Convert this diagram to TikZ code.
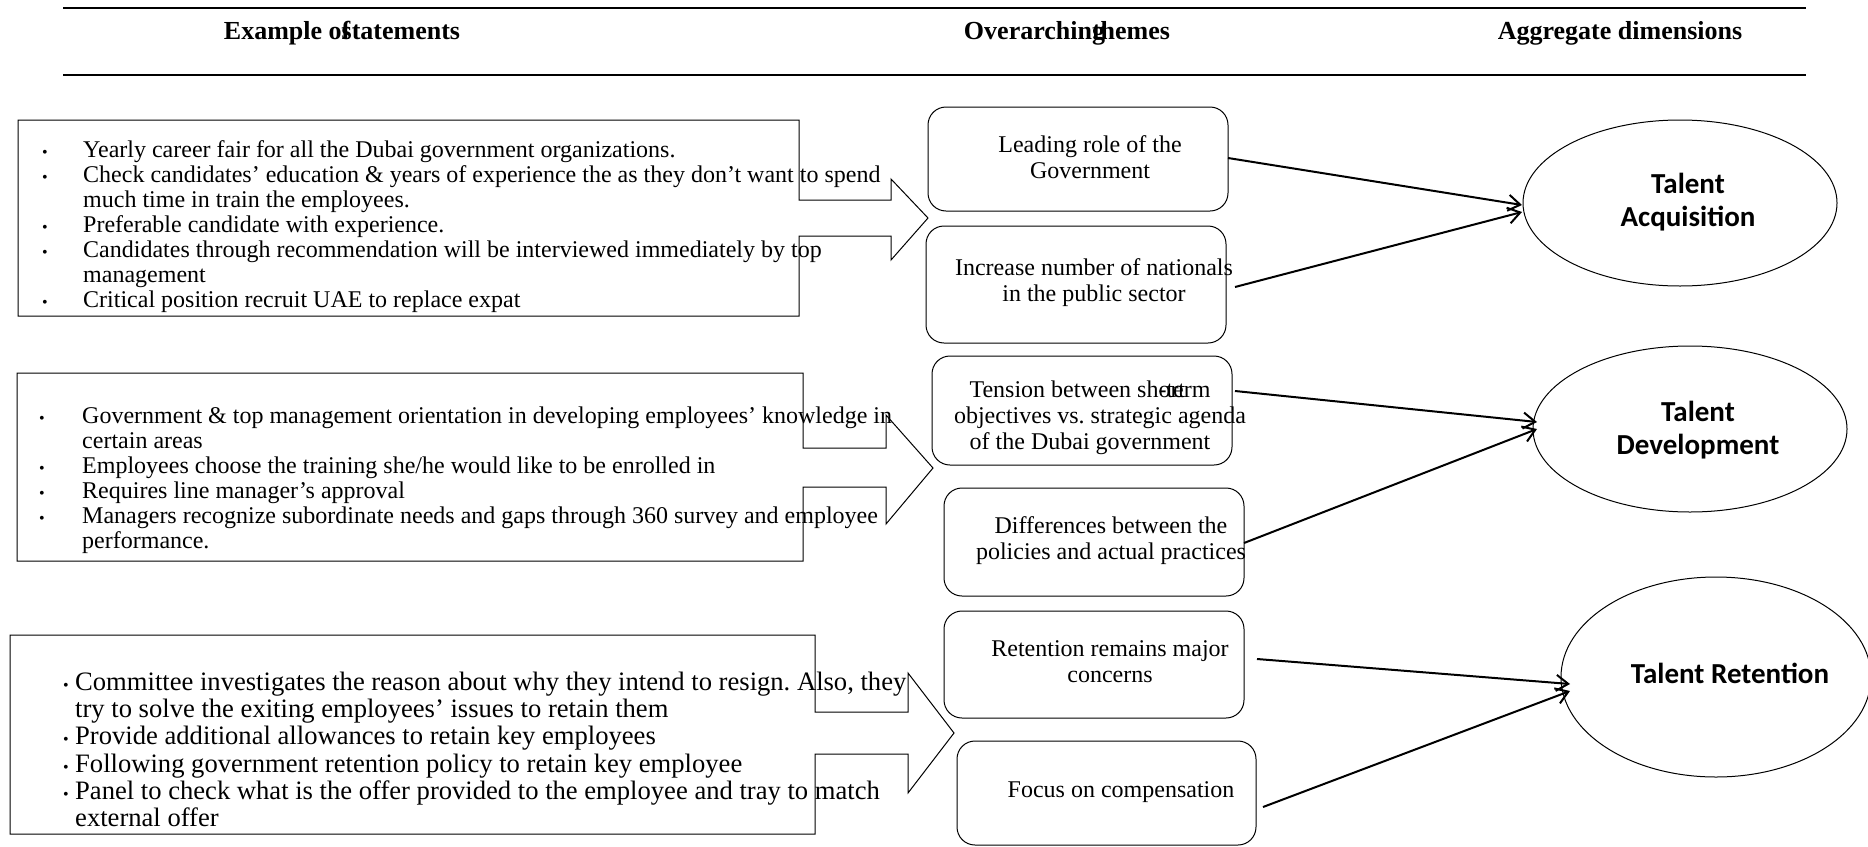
\documentclass[tikz,border=0pt]{standalone}
\usepackage{fontspec}
\setmainfont{Liberation Serif}
\newfontfamily\calib{Carlito}
\usetikzlibrary{arrows.meta,shapes.geometric}
\frenchspacing
\begin{document}
\begin{tikzpicture}[x=1pt,y=-1pt,
  hdr/.style={font=\fontsize{26}{30}\selectfont\bfseries, inner sep=0pt},
  rule/.style={line width=2.5pt},
  callout/.style={draw, line width=1pt},
  ln/.style={anchor=base west, inner sep=0pt, font=\fontsize{24}{25}\selectfont},
  lnb/.style={anchor=base west, inner sep=0pt, font=\fontsize{26.6}{27}\selectfont},
  blt/.style={anchor=base west, inner sep=0pt, font=\fontsize{16}{16}\selectfont},
  theme/.style={draw, line width=1pt, rounded corners=18pt},
  ttext/.style={align=center, inner sep=0pt, font=\fontsize{24}{26}\selectfont},
  dim/.style={draw, ellipse, line width=1pt, inner sep=0pt},
  dtext/.style={align=center, inner sep=0pt, font=\calib\bfseries\fontsize{29}{33}\selectfont},
  link/.style={line width=2pt, -{Straight Barb[length=12pt,width=16pt,line width=2pt]}}
]
\useasboundingbox (0,0) rectangle (1868,846);

% header
\draw[rule] (63,8) -- (1806,8);
\draw[rule] (63,75) -- (1806,75);
\node[hdr] (h1) at (342,33) {Example o\rlap{f}statements};
\node[hdr] (h2) at (1067,33) {Overarchin\rlap{g}themes};
\node[hdr] (h3) at (1620,33) {Aggregate dimensions};

% statement callouts
\draw[callout] (18,120) -- (799,120) -- (799,200) -- (891,200) -- (891,179) -- (928,218) -- (891,260) -- (891,236) -- (799,236) -- (799,316) -- (18,316) -- cycle;
\draw[callout] (17,373) -- (803,373) -- (803,448) -- (886,448) -- (886,415) -- (933,468) -- (886,524) -- (886,487) -- (803,487) -- (803,561) -- (17,561) -- cycle;
\draw[callout] (10,635) -- (815,635) -- (815,712) -- (908,712) -- (908,673) -- (954,733) -- (908,793) -- (908,754) -- (815,754) -- (815,834) -- (10,834) -- cycle;

% box 1 text
\node[blt] (b11) at (42,157) {•};
\node[ln] (s11) at (83,157) {Yearly career fair for all the Dubai government organizations.};
\node[blt] (b12) at (42,182) {•};
\node[ln] (s12) at (83,182) {Check candidates’ education \& years of experience the as they don’t want to spend};
\node[ln] (s12b) at (83,207) {much time in train the employees.};
\node[blt] (b13) at (42,232) {•};
\node[ln] (s13) at (83,232) {Preferable candidate with experience.};
\node[blt] (b14) at (42,257) {•};
\node[ln] (s14) at (83,257) {Candidates through recommendation will be interviewed immediately by top};
\node[ln] (s14b) at (83,282) {management};
\node[blt] (b15) at (42,307) {•};
\node[ln] (s15) at (83,307) {Critical position recruit UAE to replace expat};

% box 2 text
\node[blt] (b21) at (39,423) {•};
\node[ln] (s21) at (82,423) {Government \& top management orientation in developing employees’ knowledge in};
\node[ln] (s21b) at (82,448) {certain areas};
\node[blt] (b22) at (39,473) {•};
\node[ln] (s22) at (82,473) {Employees choose the training she/he would like to be enrolled in};
\node[blt] (b23) at (39,498) {•};
\node[ln] (s23) at (82,498) {Requires line manager’s approval};
\node[blt] (b24) at (39,523) {•};
\node[ln] (s24) at (82,523) {Managers recognize subordinate needs and gaps through 360 survey and employee};
\node[ln] (s24b) at (82,548) {performance.};

% box 3 text
\node[blt] (b31) at (63,690) {•};
\node[lnb] (s31) at (75,690) {Committee investigates the reason about why they intend to resign. Also, they};
\node[lnb] (s31b) at (75,717) {try to solve the exiting employees’ issues to retain them};
\node[blt] (b32) at (63,744) {•};
\node[lnb] (s32) at (75,744) {Provide additional allowances to retain key employees};
\node[blt] (b33) at (63,772) {•};
\node[lnb] (s33) at (75,772) {Following government retention policy to retain key employee};
\node[blt] (b34) at (63,799) {•};
\node[lnb] (s34) at (75,799) {Panel to check what is the offer provided to the employee and tray to match};
\node[lnb] (s34b) at (75,826) {external offer};

% themes
\draw[theme] (928,107) rectangle (1228,211);
\draw[theme] (926,226) rectangle (1226,343);
\draw[theme] (932,356) rectangle (1232,465);
\draw[theme] (944,488) rectangle (1244,596);
\draw[theme] (944,611) rectangle (1244,718);
\draw[theme] (957,741) rectangle (1256,845);

\node[ttext] (t1) at (1090,157) {Leading role of the\\Government};
\node[ttext] (t2) at (1094,283) {Increase number of nationals\\in the public sector};
\node[ttext] (t3) at (1090,418) {Tension between sh\rlap{ort}-term\\\hspace*{20pt}objectives vs. strategic agenda\\of the Dubai government};
\node[ttext] (t4) at (1111,541) {Differences between the\\policies and actual practices};
\node[ttext] (t5) at (1110,662) {Retention remains major\\concerns};
\node[ttext] (t6) at (1121,792) {Focus on compensation};

% dimensions
\node[dim, minimum width=314pt, minimum height=166pt] (d1) at (1680,203) {};
\node[dim, minimum width=314pt, minimum height=166pt] (d2) at (1690,429) {};
\node[dim, minimum width=310pt, minimum height=200pt] (d3) at (1716,677) {};
\node[dtext] (l1) at (1688,202) {Talent\\Acquisition};
\node[dtext] (l2) at (1698,430) {Talent\\Development};
\node[dtext] (l3) at (1730,673) {Talent Retention};

% connectors
\coordinate (a1s) at (1228,158);
\coordinate (a2s) at (1235,287);
\coordinate (a3s) at (1235,391);
\coordinate (a4s) at (1244,543);
\coordinate (a5s) at (1257,659);
\coordinate (a6s) at (1263,807);
\coordinate (a1e) at (1522,205);
\coordinate (a2e) at (1522,212);
\coordinate (a3e) at (1537,422);
\coordinate (a4e) at (1537,429);
\coordinate (a5e) at (1570,684);
\coordinate (a6e) at (1570,691);
\draw[link] (a1s) -- (a1e);
\draw[link] (a2s) -- (a2e);
\draw[link] (a3s) -- (a3e);
\draw[link] (a4s) -- (a4e);
\draw[link] (a5s) -- (a5e);
\draw[link] (a6s) -- (a6e);
\end{tikzpicture}
\end{document}
